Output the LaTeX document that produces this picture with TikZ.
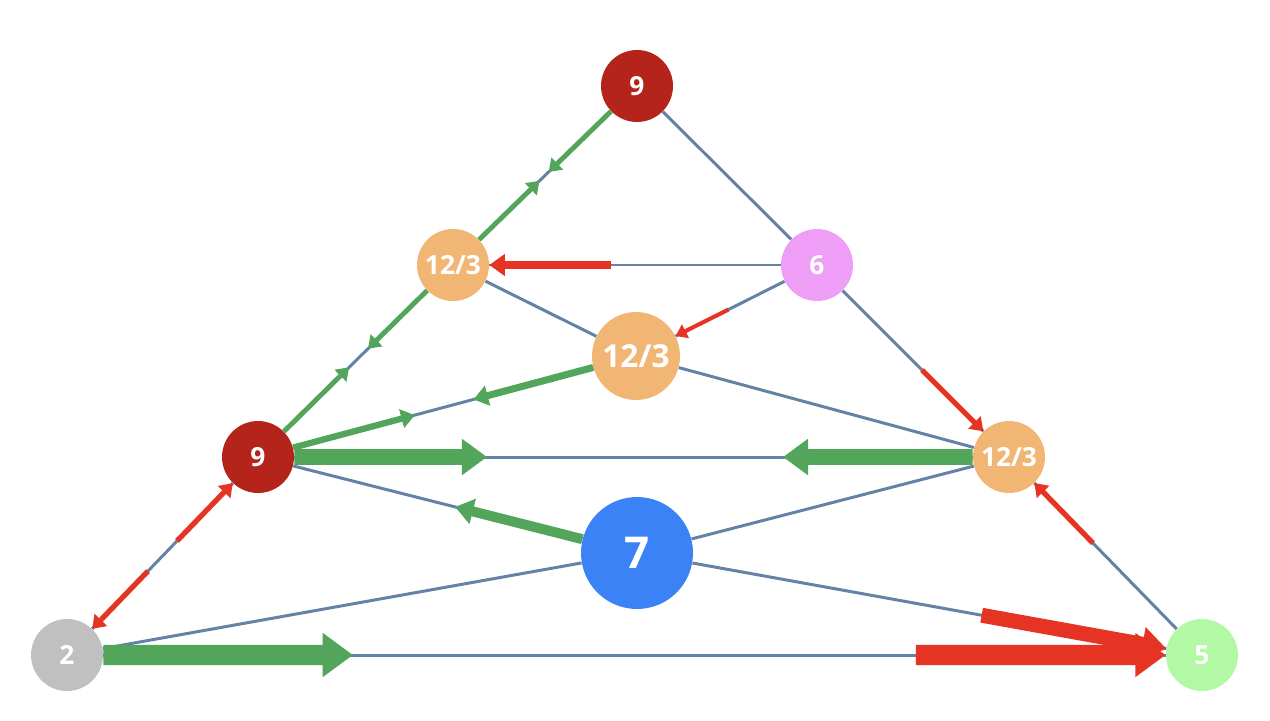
\documentclass[tikz,border=0pt]{standalone}
\usepackage{fontspec}
\setsansfont{Open Sans}
\usetikzlibrary{arrows.meta,calc}
\definecolor{nodered}{HTML}{B5241B}
\definecolor{nodeorange}{HTML}{F1B574}
\definecolor{nodepink}{HTML}{EE9EF6}
\definecolor{nodeblue}{HTML}{3B82F6}
\definecolor{nodegray}{HTML}{C0C0C0}
\definecolor{nodegreen}{HTML}{B3F9A5}
\definecolor{edgeblue}{HTML}{6482A6}
\definecolor{flowgreen}{HTML}{52A55B}
\definecolor{flowred}{HTML}{E53424}
\tikzset{
	vtx/.style={circle, inner sep=0pt, minimum size=1.44cm, text=white,
		font=\sffamily\bfseries\fontsize{15}{15}\selectfont},
	link/.style={draw=edgeblue, line width=1.7pt},
	gflow/.style={draw=flowgreen, -{Triangle[length=3.5pt 1.2, width=4.5pt 1.7]}},
	rflow/.style={draw=flowred, -{Triangle[length=3.5pt 1.2, width=4.5pt 1.7]}},
}
\begin{document}
\begin{tikzpicture}[x=0.02cm, y=-0.02cm]
\useasboundingbox (0,0) rectangle (1270,720);
% Nodes
\node[vtx, fill=nodered] (n9t) at (637,86) {9};
\node[vtx, fill=nodeorange] (n12l) at (453,265) {12/3};
\node[vtx, fill=nodepink] (n6) at (817,265) {6};
\node[vtx, fill=nodeorange, minimum size=1.76cm, font=\sffamily\bfseries\fontsize{18}{18}\selectfont] (n12c) at (636,356) {12/3};
\node[vtx, fill=nodered] (n9l) at (258,457) {9};
\node[vtx, fill=nodeorange] (n12r) at (1009,457) {12/3};
\node[vtx, fill=nodeblue, minimum size=2.24cm, font=\sffamily\bfseries\fontsize{25}{25}\selectfont] (n7) at (637,553) {7};
\node[vtx, fill=nodegray] (n2) at (67,655) {2};
\node[vtx, fill=nodegreen] (n5) at (1202,655) {5};
% Edges
\draw[link] (n9t) -- (n12l);
\draw[link] (n9t) -- (n6);
\draw[link] (n12l) -- (n6);
\draw[link] (n12l) -- (n12c);
\draw[link] (n6) -- (n12c);
\draw[link] (n6) -- (n12r);
\draw[link] (n12l) -- (n9l);
\draw[link] (n9l) -- (n12c);
\draw[link] (n12c) -- (n12r);
\draw[link] (n9l) -- (n12r);
\draw[link] (n9l) -- (n7);
\draw[link] (n7) -- (n12r);
\draw[link] (n2) -- (n9l);
\draw[link] (n2) -- (n7);
\draw[link] (n7) -- (n5);
\draw[link] (n12r) -- (n5);
\draw[link] (n2) -- (n5);
% Green flows (out of a node)
\draw[gflow, line width=2.8pt] (n9t) -- ($(n9t)!0.48!(n12l)$);
\draw[gflow, line width=2.8pt] (n12l) -- ($(n12l)!0.47!(n9t)$);
\draw[gflow, line width=2.8pt] (n12l) -- ($(n12l)!0.436!(n9l)$);
\draw[gflow, line width=2.8pt] (n9l) -- ($(n9l)!0.467!(n12l)$);
\draw[gflow, line width=4pt] (n12c) -- ($(n12c)!0.43!(n9l)$);
\draw[gflow, line width=3.6pt] (n9l) -- ($(n9l)!0.415!(n12c)$);
\draw[gflow, line width=9pt] (n9l) -- ($(n9l)!0.305!(n12r)$);
\draw[gflow, line width=9pt] (n12r) -- ($(n12r)!0.301!(n9l)$);
\draw[gflow, line width=5.7pt] (n7) -- ($(n7)!0.48!(n9l)$);
\draw[gflow, line width=11.5pt] (n2) -- ($(n2)!0.252!(n5)$);
% Red flows (into a node)
\draw[rflow, line width=4.5pt] ($(n6)!0.566!(n12l)$) -- (n12l);
\draw[rflow, line width=2.3pt] ($(n6)!0.49!(n12c)$) -- (n12c);
\draw[rflow, line width=3pt] ($(n6)!0.547!(n12r)$) -- (n12r);
\draw[rflow, line width=3pt] ($(n2)!0.576!(n9l)$) -- (n9l);
\draw[rflow, line width=3pt] ($(n9l)!0.576!(n2)$) -- (n2);
\draw[rflow, line width=3pt] ($(n5)!0.565!(n12r)$) -- (n12r);
\draw[rflow, line width=8.5pt] ($(n7)!0.61!(n5)$) -- (n5);
\draw[rflow, line width=11.5pt] ($(n2)!0.748!(n5)$) -- (n5);
\end{tikzpicture}
\end{document}
